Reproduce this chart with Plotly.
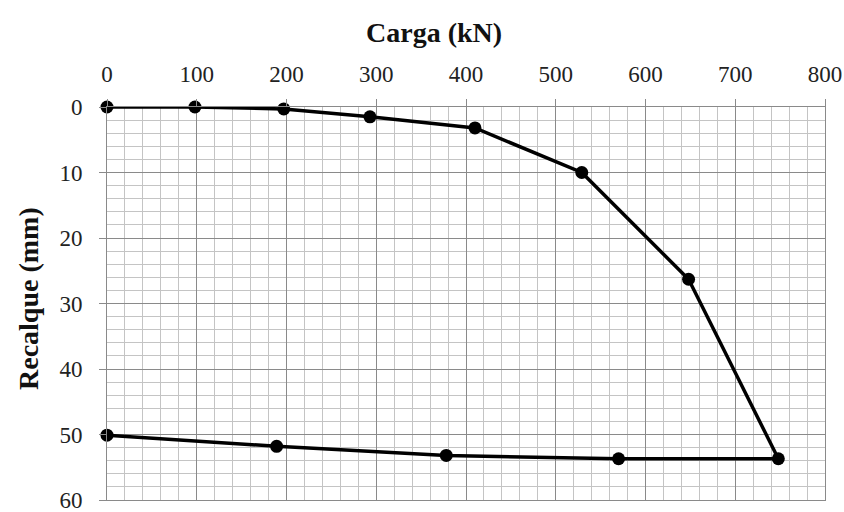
import plotly.graph_objects as go

carga = [0, 98, 197, 293, 410, 529, 648, 748, 570, 378, 189, 0]
recalque = [0.0, 0.0, 0.3, 1.5, 3.2, 10.0, 26.3, 53.7, 53.7, 53.2, 51.8, 50.1]

x_ticks = [0, 100, 200, 300, 400, 500, 600, 700, 800]
y_ticks = [0, 10, 20, 30, 40, 50, 60]

W, H = 844, 512
L, R, T, B = 107, 19, 107, 12

fig = go.Figure()
fig.add_trace(go.Scatter(
    x=carga, y=recalque, mode="lines+markers",
    line=dict(color="black", width=3.5),
    marker=dict(color="black", size=13),
    showlegend=False, hoverinfo="skip", cliponaxis=False,
))

tickfont = dict(family="Liberation Serif", size=23, color="#222")
fig.update_layout(
    width=W, height=H,
    margin=dict(l=L, r=R, t=T, b=B, autoexpand=False),
    paper_bgcolor="white", plot_bgcolor="white",
    xaxis=dict(
        side="top", range=[0, 800], tickvals=x_ticks, automargin=False,
        showgrid=True, gridcolor="#8a8a8a", gridwidth=1,
        minor=dict(dtick=20, showgrid=True, gridcolor="#c4c4c4", gridwidth=1),
        ticks="outside", ticklen=7, tickcolor="#8a8a8a",
        tickfont=tickfont, zeroline=False, ticklabelstandoff=8,
        ticklabeloverflow="allow",
        showline=True, linecolor="#8a8a8a", linewidth=1, mirror=True,
    ),
    yaxis=dict(
        range=[60, 0], tickvals=y_ticks, automargin=False,
        showgrid=True, gridcolor="#8a8a8a", gridwidth=1,
        minor=dict(dtick=2, showgrid=True, gridcolor="#c4c4c4", gridwidth=1),
        ticks="outside", ticklen=7, tickcolor="#8a8a8a",
        tickfont=tickfont, zeroline=False, ticklabelstandoff=12,
        ticklabeloverflow="allow",
        showline=True, linecolor="#8a8a8a", linewidth=1, mirror=True,
    ),
    annotations=[
        dict(text="<b>Carga (kN)</b>", xref="paper", yref="paper",
             x=(434 - L) / (W - L - R), y=1 + (T - 32) / (H - T - B),
             showarrow=False, xanchor="center", yanchor="middle",
             font=dict(family="Liberation Serif", size=28, color="#111")),
        dict(text="<b>Recalque (mm)</b>", xref="paper", yref="paper",
             x=-(L - 28) / (W - L - R), y=(H - B - 299) / (H - T - B),
             showarrow=False, xanchor="center", yanchor="middle", textangle=-90,
             font=dict(family="Liberation Serif", size=28, color="#111")),
    ],
)

fig.write_html("out.html")
